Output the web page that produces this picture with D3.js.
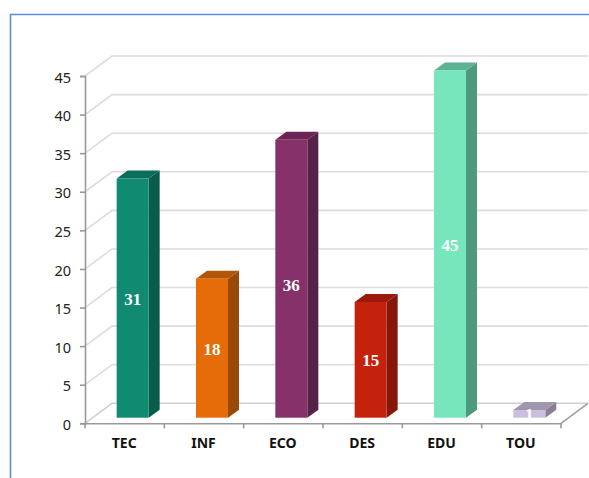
<!DOCTYPE html>
<html>
<head>
<meta charset="utf-8">
<script src="https://cdn.jsdelivr.net/npm/d3@7"></script>
<style>
  html, body { margin: 0; padding: 0; background: #fff; overflow: hidden; }
  svg { display: block; }
</style>
</head>
<body>
<div id="chart"></div>
<script>
// Chart data
const categories = ["TEC", "INF", "ECO", "DES", "EDU", "TOU"];
const values = [31, 18, 36, 15, 45, 1];
const yTicks = [0, 5, 10, 15, 20, 25, 30, 35, 40, 45];
const frontColors = ["#108a70", "#e66c0a", "#87316a", "#c5220e", "#76e6bd", "#cbbfdd"];
const sideColors = ["#0a5c4a", "#9a4a08", "#552349", "#84170a", "#4f9a7e", "#887f94"];
const topColors = ["#0a6e59", "#b35506", "#6b2455", "#9a1a0b", "#5cb394", "#a096ad"];

const width = 589, height = 478;
const plotLeft = 85, plotRight = 561, plotBottom = 423.3, plotTop = 76;
// depth of the 3d box, wall and bars
const wallDx = 27, wallDy = -20;
const barDx = 11, barDy = -8;
const barShiftX = 8, barShiftY = -5.6;
const barWidth = 32;

const svg = d3.select("#chart").append("svg")
  .attr("width", width)
  .attr("height", height);

// outer frame, only top and left are in view
svg.append("path")
  .attr("d", `M10.5,${height} V14.5 H${width}`)
  .attr("fill", "none")
  .attr("stroke", "#5b8fd9")
  .attr("stroke-width", 1.6);

const x = d3.scaleBand().domain(categories).range([plotLeft, plotRight]);
const y = d3.scaleLinear().domain([0, 45]).range([plotBottom, plotTop]);

// gridlines on the wall
svg.append("g").selectAll("path")
  .data(yTicks.filter(d => d > 0))
  .enter().append("path")
  .attr("d", d => `M${plotLeft},${y(d)} l${wallDx},${wallDy} H${plotRight + wallDx}`)
  .attr("fill", "none")
  .attr("stroke", "#dcdcdc")
  .attr("stroke-width", 1.6);

// floor
svg.append("path")
  .attr("d", `M${plotLeft},${plotBottom} l${wallDx},${wallDy} H${plotRight + wallDx}`)
  .attr("fill", "none")
  .attr("stroke", "#d0d0d0")
  .attr("stroke-width", 1.6);
svg.append("path")
  .attr("d", `M${plotRight},${plotBottom} l${wallDx},${wallDy}`)
  .attr("fill", "none")
  .attr("stroke", "#a0a0a0")
  .attr("stroke-width", 1.6);

// bars
const bars = svg.append("g").selectAll("g")
  .data(categories)
  .enter().append("g")
  .attr("transform", d => `translate(${x(d) + (x.bandwidth() - barWidth) / 2 + barShiftX},${barShiftY})`);

bars.append("path")
  .attr("d", (d, i) => `M${barWidth},${y(values[i])} l${barDx},${barDy} V${y(0) + barDy} l${-barDx},${-barDy} Z`)
  .attr("fill", (d, i) => sideColors[i]);

bars.append("path")
  .attr("d", (d, i) => `M0,${y(values[i])} l${barDx},${barDy} h${barWidth} l${-barDx},${-barDy} Z`)
  .attr("fill", (d, i) => topColors[i]);

bars.append("rect")
  .attr("x", 0)
  .attr("y", (d, i) => y(values[i]))
  .attr("width", barWidth)
  .attr("height", (d, i) => y(0) - y(values[i]))
  .attr("fill", (d, i) => frontColors[i]);

bars.append("text")
  .attr("x", barWidth / 2)
  .attr("y", (d, i) => (y(0) + y(values[i])) / 2 + (d === "ECO" ? 12 : 6.5))
  .attr("text-anchor", "middle")
  .attr("font-family", "'Liberation Serif', serif")
  .attr("font-weight", "bold")
  .attr("font-size", 17)
  .attr("fill", "#fff")
  .text((d, i) => values[i]);

// y axis
const yAxis = svg.append("g")
  .attr("transform", `translate(${plotLeft},0)`)
  .call(d3.axisLeft(y).tickValues(yTicks).tickSize(5).tickPadding(9));
yAxis.selectAll("path, line").attr("stroke", "#999").attr("stroke-width", 1.6);
yAxis.selectAll("text")
  .attr("dy", "0.42em")
  .attr("font-family", "'Noto Sans', sans-serif")
  .attr("font-size", 14.5)
  .attr("fill", "#222");

// x axis
const xAxis = svg.append("g")
  .attr("transform", `translate(0,${plotBottom})`)
  .call(d3.axisBottom(x).tickSize(0).tickPadding(15));
xAxis.select("path").attr("stroke", "#999").attr("stroke-width", 1.6);
xAxis.selectAll("text")
  .attr("x", -0.5)
  .attr("font-family", "'Noto Sans', sans-serif")
  .attr("font-weight", "bold")
  .attr("font-size", 14)
  .attr("fill", "#111");

// tick marks sit between the categories
svg.append("g").selectAll("line")
  .data(categories.concat(["end"]))
  .enter().append("line")
  .attr("x1", (d, i) => i < categories.length ? x(d) : plotRight)
  .attr("x2", (d, i) => i < categories.length ? x(d) : plotRight)
  .attr("y1", plotBottom)
  .attr("y2", plotBottom + 5)
  .attr("stroke", "#999")
  .attr("stroke-width", 1.6);
</script>
</body>
</html>
